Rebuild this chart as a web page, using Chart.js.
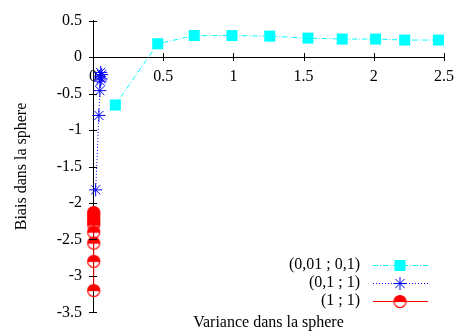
<!DOCTYPE html>
<html>
<head>
<meta charset="utf-8">
<script src="https://cdn.jsdelivr.net/npm/chart.js@4/dist/chart.umd.min.js"></script>
<style>
  html, body { margin: 0; padding: 0; background: #fff; }
  #wrap { width: 464px; height: 333px; }
</style>
</head>
<body>
<div id="wrap"><canvas id="graph" width="464" height="333"></canvas></div>
<script>
// values
const legendLabels = ['(0,01 ; 0,1)', '(0,1 ; 1)', '(1 ; 1)'];

const cyanX = [0.159, 0.461, 0.721, 0.99, 1.259, 1.531, 1.775, 2.013, 2.22, 2.46];
const cyanY = [-0.657, 0.183, 0.295, 0.295, 0.287, 0.26, 0.247, 0.247, 0.233, 0.233];

const blueX = [0.019, 0.042, 0.049, 0.052, 0.058, 0.047, 0.062, 0.055];
const blueY = [-1.82, -0.8, -0.46, -0.33, -0.3, -0.27, -0.24, -0.21];

const redX = [0.005, 0.005, 0.005, 0.005, 0.005, 0.005, 0.005, 0.005, 0.005];
const redY = [-3.2, -2.8, -2.55, -2.4, -2.3, -2.26, -2.22, -2.17, -2.13];

const xTicks = [0, 0.5, 1, 1.5, 2, 2.5];
const yTicks = [0.5, 0, -0.5, -1, -1.5, -2, -2.5, -3, -3.5];

const xTitle = 'Variance dans la sphere';
const yTitle = 'Biais dans la sphere';

const serif = 'Liberation Serif';

function toPoints(xs, ys) {
  return xs.map((x, i) => ({x: x, y: ys[i]}));
}

// gnuplot style half filled circle
function halfCircle(color) {
  const c = document.createElement('canvas');
  c.width = 15; c.height = 15;
  const g = c.getContext('2d');
  g.fillStyle = color;
  g.beginPath();
  g.arc(7.5, 7.5, 6, Math.PI, 0);
  g.closePath();
  g.fill();
  g.strokeStyle = color;
  g.lineWidth = 1.2;
  g.beginPath();
  g.arc(7.5, 7.5, 6, 0, Math.PI * 2);
  g.stroke();
  g.beginPath();
  g.moveTo(1.5, 7.5); g.lineTo(13.5, 7.5);
  g.stroke();
  return c;
}
const redPoint = halfCircle('#ff0000');

const datasets = [
  {
    label: legendLabels[0],
    data: toPoints(cyanX, cyanY),
    borderColor: '#00ffff',
    backgroundColor: '#00ffff',
    borderWidth: 1,
    borderDash: [5, 2, 1, 2],
    pointStyle: 'rect',
    pointRadius: 7.8,
    pointBorderWidth: 0,
    showLine: true,
    clip: false
  },
  {
    label: legendLabels[1],
    data: toPoints(blueX, blueY),
    borderColor: '#0000ff',
    backgroundColor: '#0000ff',
    borderWidth: 1,
    borderDash: [1, 2],
    pointStyle: 'star',
    pointRadius: 6.5,
    pointBorderWidth: 1,
    pointBorderColor: '#0000ff',
    showLine: true,
    clip: false
  },
  {
    label: legendLabels[2],
    data: toPoints(redX, redY),
    borderColor: '#ff0000',
    backgroundColor: '#ff0000',
    borderWidth: 1,
    pointStyle: redPoint,
    pointRadius: 7,
    showLine: true,
    clip: false
  }
];

// crossing tick marks, bottom title and gnuplot like key
const gnuplotBits = {
  id: 'gnuplotBits',
  afterDraw(chart) {
    const ctx = chart.ctx;
    const xs = chart.scales.x, ys = chart.scales.y;
    const y0 = ys.getPixelForValue(0);
    const x0 = xs.getPixelForValue(0);
    ctx.save();
    ctx.strokeStyle = '#000';
    ctx.lineWidth = 1;
    ctx.beginPath();
    xTicks.forEach(v => {
      if (v === 0) return;
      const px = Math.round(xs.getPixelForValue(v)) + 0.5;
      ctx.moveTo(px, y0 - 4); ctx.lineTo(px, y0 + 4);
    });
    yTicks.forEach(v => {
      const py = Math.round(ys.getPixelForValue(v)) + 0.5;
      ctx.moveTo(x0 - 4, py); ctx.lineTo(x0 + 4, py);
    });
    ctx.stroke();

    ctx.fillStyle = '#000';
    ctx.font = '16px "' + serif + '"';
    ctx.textAlign = 'center';
    ctx.textBaseline = 'middle';
    const area = chart.chartArea;
    ctx.fillText(xTitle, (area.left + area.right) / 2, 323);

    // key
    const rowY = [265, 283, 301];
    chart.data.datasets.forEach((ds, i) => {
      const y = rowY[i];
      ctx.fillStyle = '#000';
      ctx.textAlign = 'right';
      ctx.fillText(ds.label, 360, y);

      ctx.strokeStyle = ds.borderColor;
      ctx.lineWidth = 1;
      ctx.setLineDash(ds.borderDash || []);
      ctx.beginPath();
      ctx.moveTo(373, y + 0.5); ctx.lineTo(428, y + 0.5);
      ctx.stroke();
      ctx.setLineDash([]);

      if (ds.pointStyle === 'rect') {
        const s = ds.pointRadius * Math.SQRT1_2;
        ctx.fillStyle = ds.backgroundColor;
        ctx.fillRect(400 - s, y + 0.5 - s, 2 * s, 2 * s);
      } else if (ds.pointStyle === 'star') {
        ctx.strokeStyle = ds.borderColor;
        Chart.helpers.drawPoint(ctx, {pointStyle: 'star', radius: ds.pointRadius, rotation: 0, borderWidth: 1}, 400, y + 0.5);
      } else {
        ctx.drawImage(ds.pointStyle, 400 - 7.5, y + 0.5 - 7.5);
      }
    });
    ctx.restore();
  }
};

new Chart('graph', {
  type: 'scatter',
  data: {datasets: datasets},
  plugins: [gnuplotBits],
  options: {
    responsive: false,
    animation: false,
    devicePixelRatio: 1,
    layout: {padding: {left: 0, top: 16, right: 15, bottom: 20}},
    plugins: {
      legend: {display: false},
      tooltip: {enabled: false}
    },
    scales: {
      x: {
        type: 'linear',
        position: {y: 0},
        min: 0,
        max: 2.5,
        afterBuildTicks: (scale) => { scale.ticks = xTicks.map(v => ({value: v})); },
        grid: {display: true, drawOnChartArea: false, drawTicks: false},
        border: {display: true, color: '#000', width: 1},
        ticks: {
          color: '#000',
          padding: 10,
          maxRotation: 0,
          font: {family: serif, size: 16},
          callback: (v) => String(v)
        }
      },
      y: {
        type: 'linear',
        min: -3.5,
        max: 0.5,
        afterBuildTicks: (scale) => { scale.ticks = yTicks.map(v => ({value: v})); },
        afterFit: (scale) => { scale.width = 93; },
        grid: {display: true, drawOnChartArea: false, drawTicks: false},
        border: {display: true, color: '#000', width: 1},
        title: {
          display: true,
          text: yTitle,
          color: '#000',
          font: {family: serif, size: 16},
          padding: {top: 12, bottom: 0}
        },
        ticks: {
          color: '#000',
          padding: 11,
          font: {family: serif, size: 16},
          callback: (v) => String(v)
        }
      }
    }
  }
});
</script>
</body>
</html>
